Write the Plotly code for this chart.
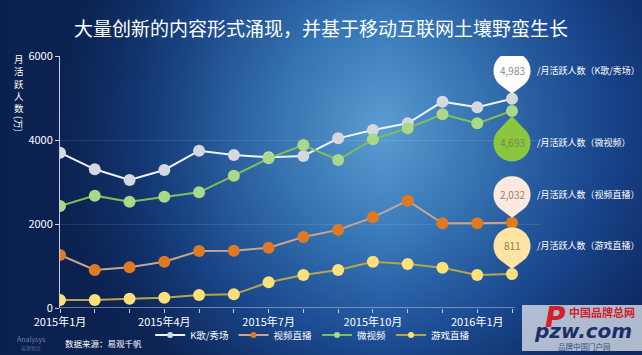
import base64
import math
import plotly.graph_objects as go

# ---------------- data ----------------
months = ["2015年1月", "2015年2月", "2015年3月", "2015年4月", "2015年5月", "2015年6月", "2015年7月",
          "2015年8月", "2015年9月", "2015年10月", "2015年11月", "2015年12月", "2016年1月", "2016年2月"]
tick_labels = ["2015年1月", "", "", "2015年4月", "", "", "2015年7月", "", "", "2015年10月", "", "", "2016年1月", ""]
series_names = ["K歌/秀场", "视频直播", "微视频", "游戏直播"]
k_song = [3698, 3302, 3048, 3286, 3746, 3643, 3587, 3619, 4040, 4238, 4397, 4913, 4778, 4983]
video_live = [1262, 905, 968, 1103, 1357, 1365, 1437, 1690, 1860, 2159, 2556, 2016, 2016, 2032]
micro_video = [2429, 2675, 2532, 2651, 2754, 3151, 3563, 3881, 3524, 4016, 4278, 4611, 4397, 4693]
game_live = [190, 190, 222, 246, 310, 325, 611, 786, 905, 1103, 1048, 960, 786, 811]
y_ticks = [0, 2000, 4000, 6000]
pin_labels = ["/月活跃人数（K歌/秀场）", "/月活跃人数（视频直播）", "/月活跃人数（微视频）", "/月活跃人数（游戏直播）"]

W, H = 642, 355
FONT = "Noto Sans CJK SC"

line_colors = ["#eef3ff", "#c9a58f", "#7cc05a", "#b5a64c"]
marker_colors = ["#d6d8e0", "#e07a22", "#a9d888", "#fde07a"]
values = [k_song, video_live, micro_video, game_live]
xs = list(range(len(months)))

fig = go.Figure()
for name, vals, lc, mc in zip(series_names, values, line_colors, marker_colors):
    fig.add_trace(go.Scatter(
        x=xs, y=vals, name=name, mode="lines+markers", showlegend=False,
        line=dict(color=lc, width=2),
        marker=dict(color=mc, size=12, line=dict(width=0)),
        hovertext=months,
    ))
# legend entries with small symbols
for name, lc, mc in zip(series_names, line_colors, marker_colors):
    fig.add_trace(go.Scatter(x=[None], y=[None], name=name, mode="lines+markers",
                             line=dict(color=lc, width=2), marker=dict(color=mc, size=6)))

# ---------------- background (radial glow) ----------------
svg = f'''<svg xmlns="http://www.w3.org/2000/svg" width="{W}" height="{H}" viewBox="0 0 {W} {H}" preserveAspectRatio="none">
<defs>
<radialGradient id="g" gradientUnits="userSpaceOnUse" cx="380" cy="130" r="330" gradientTransform="translate(380 130) scale(1 0.9) translate(-380 -130)">
<stop offset="0" stop-color="#5b9dd2"/>
<stop offset="0.35" stop-color="#3a7cbc"/>
<stop offset="0.7" stop-color="#1d4f98"/>
<stop offset="1" stop-color="#0d2759"/>
</radialGradient>
<linearGradient id="l" x1="0" y1="0" x2="1" y2="0">
<stop offset="0" stop-color="#0a1f4c" stop-opacity="0.85"/>
<stop offset="0.35" stop-color="#0a1f4c" stop-opacity="0.2"/>
<stop offset="0.6" stop-color="#0a1f4c" stop-opacity="0"/>
<stop offset="1" stop-color="#0e2a70" stop-opacity="0.35"/>
</linearGradient>
</defs>
<rect width="{W}" height="{H}" fill="#0d2759"/>
<rect width="{W}" height="{H}" fill="url(#g)"/>
<rect width="{W}" height="{H}" fill="url(#l)"/>
</svg>'''
src = "data:image/svg+xml;base64," + base64.b64encode(svg.encode()).decode()
fig.add_layout_image(dict(source=src, xref="paper", yref="paper", x=0, y=1, sizex=1, sizey=1,
                          sizing="stretch", xanchor="left", yanchor="top", layer="below"))

# ---------------- axes ----------------
# plot area wide enough that the pins at the last point are not clipped
x0p, x1p = 60, 540
ytop, ybot = 56, 308
px_per_month = 452 / 13
x_end = (x1p - x0p) / px_per_month
axis_color = "#c5cde0"
fig.update_layout(
    width=W, height=H, margin=dict(l=0, r=0, t=0, b=0, autoexpand=False),
    paper_bgcolor="#0d2759", plot_bgcolor="rgba(0,0,0,0)",
    font=dict(family=FONT, color="white", size=11),
    showlegend=True,
    legend=dict(orientation="h", x=0.487, xanchor="center", y=(H - 335) / H, yanchor="middle",
                font=dict(size=9.5, color="white"), bgcolor="rgba(0,0,0,0)",
                itemwidth=30, tracegroupgap=0),
    xaxis=dict(domain=[x0p / W, x1p / W], range=[0, x_end], tickvals=xs,
               ticktext=tick_labels, showgrid=False, zeroline=False, showline=False, automargin=False,
               ticks="outside", ticklen=4, tickcolor=axis_color,
               tickfont=dict(size=11, color="white")),
    yaxis=dict(domain=[(H - ybot) / H, (H - ytop) / H], range=[0, 6000], tickvals=y_ticks,
               showgrid=True, gridcolor="rgba(255,255,255,0.10)", zeroline=False, showline=True,
               automargin=False,
               linecolor=axis_color, linewidth=1, ticks="outside", ticklen=4, tickcolor=axis_color,
               tickfont=dict(size=11, color="white")),
)

shapes = []
# x axis line (ends just after the last month)
shapes.append(dict(type="line", xref="x", yref="y", x0=0, x1=xs[-1] + 0.08, y0=0, y1=0,
                   line=dict(color=axis_color, width=1), layer="above"))

# ---------------- title & texts ----------------
ann = []
def ptext(text, x, y, size, color="white", xanchor="center", **kw):
    ann.append(dict(text=text, x=x / W, y=1 - y / H, xref="paper", yref="paper", showarrow=False,
                    xanchor=xanchor, yanchor="middle", font=dict(size=size, color=color, **kw.pop("font", {})), **kw))

ptext("大量创新的内容形式涌现，并基于移动互联网土壤野蛮生长", 321, 27, 19)
ann.append(dict(text="<br>".join("月活跃人数"), x=19 / W, y=1 - 50 / H, xref="paper", yref="paper",
                xanchor="center", yanchor="top", showarrow=False, font=dict(size=9.5, color="white")))
ptext("(万)", 19, 124, 9.5, textangle=90)
ptext("数据来源：易观千帆", 63, 343, 8.5, xanchor="left")
ptext("Analysys", 31, 339, 7, color="rgba(190,205,235,0.55)")
ptext("易观智库", 31, 348, 5, color="rgba(190,205,235,0.45)")

# ---------------- pins at last point ----------------
def pin_path(r, c, t, up):
    # circle centre c px from the point, tip t px from the point (above unless up)
    s = -1 if up else 1
    d = c - t
    phi = math.acos(r / d)
    pts = [f"M 0,{s * t:.2f}"]
    start = -math.pi / 2 + phi
    end = -math.pi / 2 - phi + 2 * math.pi
    n = 48
    for i in range(n + 1):
        a = start + (end - start) * i / n
        px = r * math.cos(a)
        py = c + r * math.sin(a)
        pts.append(f"L {px:.2f},{s * py:.2f}")
    pts.append("Z")
    return " ".join(pts)

last = xs[-1]
pin_styles = {
    "K歌/秀场": ("#ffffff", "#8a8a8a", False),
    "视频直播": ("#fbe8de", "#9a7e6c", False),
    "微视频": ("#8cc63f", "#6b8d4a", True),
    "游戏直播": ("#fde3a4", "#9b7f4a", False),
}
R, C, T = 18.5, 28, 5
for name, vals, lab in zip(series_names, values, pin_labels):
    fillc, tc, up = pin_styles[name]
    v = vals[-1]
    c = 32 if up else C
    shapes.append(dict(type="path", xref="x", yref="y", xsizemode="pixel", ysizemode="pixel",
                       xanchor=last, yanchor=v, path=pin_path(R, c, T, up),
                       fillcolor=fillc, line=dict(width=0), layer="above"))
    yshift = -c if up else c
    ann.append(dict(text=f"{v:,}", x=last, y=v, xref="x", yref="y", yshift=yshift, showarrow=False,
                    xanchor="center", yanchor="middle", font=dict(size=10, color=tc)))
    ann.append(dict(text=lab, x=last, y=v, xref="x", yref="y", yshift=yshift, xshift=23,
                    xanchor="left", yanchor="middle", showarrow=False, font=dict(size=9, color="white")))

# ---------------- watermark ----------------
shapes.append(dict(type="rect", xref="paper", yref="paper", x0=522 / W, x1=1, y0=1 - 351 / H, y1=1 - 305 / H,
                   fillcolor="rgba(205,211,224,0.85)", line=dict(width=0), layer="above"))
ptext("<b><i>pzw.com</i></b>", 583, 331, 20, color="#1d2f6a", font=dict(family="DejaVu Sans"))
ptext("<b><i>P</i></b>", 555, 317, 28, color="#d0202a", font=dict(family="DejaVu Sans"))
ptext("<b>中国品牌总网</b>", 602, 312, 11, color="#d0202a")
ptext("品牌中国门户网", 584, 346, 7.5, color="#3a4e80")

fig.update_layout(annotations=ann, shapes=shapes)
fig.write_html("out.html", post_script="document.body.style.margin='0';document.body.style.overflow='hidden';")
